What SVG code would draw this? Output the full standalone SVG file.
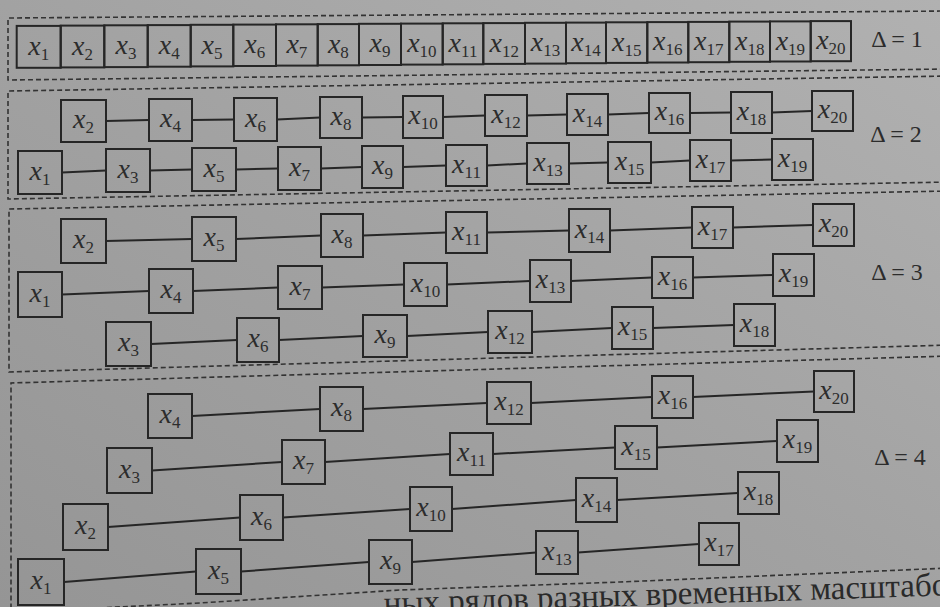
<svg xmlns="http://www.w3.org/2000/svg" width="940" height="607" viewBox="0 0 940 607">
<defs>
<linearGradient id="bg" x1="0" y1="1" x2="1" y2="0">
<stop offset="0" stop-color="#959595"/>
<stop offset="0.5" stop-color="#a2a2a2"/>
<stop offset="1" stop-color="#b1b1b1"/>
</linearGradient>
<style>
.box{fill:none;stroke:#262626;stroke-width:2}
.lbl{font-family:"Liberation Serif",serif;font-style:italic;font-size:28px;fill:#2c2c2c;text-anchor:middle}
.sub{font-style:normal;font-size:17px}
.con line{stroke:#262626;stroke-width:2}
.panel{fill:none;stroke:#333;stroke-width:1.6;stroke-dasharray:5 3}
.dl{font-family:"Liberation Serif",serif;font-size:24px;fill:#2c2c2c;text-anchor:middle}
.cap{font-family:"Liberation Serif",serif;font-size:33px;fill:#2a2a2a}
</style>
</defs>
<rect width="940" height="607" fill="url(#bg)"/>
<g id="panels">
<path class="panel" d="M950,11 L8,18 L8,80 L950,69"/>
<path class="panel" d="M950,76 L8,91 L8,199 L950,182"/>
<path class="panel" d="M950,191 L9,209 L9,372 L950,345"/>
<path class="panel" d="M950,356 L11,383 L11,612"/>
<path class="panel" d="M-5,613 L200,603 L400,590 L620,582 L950,568"/>
</g>
<g id="delta-labels">
<text class="dl" x="897" y="47">Δ = 1</text>
<text class="dl" x="896" y="142">Δ = 2</text>
<text class="dl" x="897" y="280">Δ = 3</text>
<text class="dl" x="900" y="465">Δ = 4</text>
</g>
<g id="row-d1">
<g id="d1-x1"><rect class="box" x="16.7" y="25.9" width="44" height="41.9"/><text class="lbl" x="38.7" y="54.9">x<tspan class="sub" dy="5">1</tspan></text></g>
<g id="d1-x2"><rect class="box" x="60.7" y="25.6" width="43.6" height="41.8"/><text class="lbl" x="82.5" y="54.5">x<tspan class="sub" dy="5">2</tspan></text></g>
<g id="d1-x3"><rect class="box" x="104.3" y="25.3" width="43.4" height="41.8"/><text class="lbl" x="126" y="54.2">x<tspan class="sub" dy="5">3</tspan></text></g>
<g id="d1-x4"><rect class="box" x="147.7" y="25.1" width="43" height="41.6"/><text class="lbl" x="169.2" y="53.9">x<tspan class="sub" dy="5">4</tspan></text></g>
<g id="d1-x5"><rect class="box" x="190.7" y="24.8" width="42.6" height="41.6"/><text class="lbl" x="212" y="53.6">x<tspan class="sub" dy="5">5</tspan></text></g>
<g id="d1-x6"><rect class="box" x="233.3" y="24.6" width="42.7" height="41.4"/><text class="lbl" x="254.7" y="53.3">x<tspan class="sub" dy="5">6</tspan></text></g>
<g id="d1-x7"><rect class="box" x="276" y="24.3" width="41.7" height="41.3"/><text class="lbl" x="296.9" y="53">x<tspan class="sub" dy="5">7</tspan></text></g>
<g id="d1-x8"><rect class="box" x="317.7" y="24.1" width="41.3" height="41.2"/><text class="lbl" x="338.4" y="52.7">x<tspan class="sub" dy="5">8</tspan></text></g>
<g id="d1-x9"><rect class="box" x="359" y="23.8" width="42" height="41.2"/><text class="lbl" x="380" y="52.4">x<tspan class="sub" dy="5">9</tspan></text></g>
<g id="d1-x10"><rect class="box" x="401" y="23.6" width="41.7" height="41"/><text class="lbl" x="421.9" y="52.1">x<tspan class="sub" dy="5">10</tspan></text></g>
<g id="d1-x11"><rect class="box" x="442.7" y="23.3" width="40.6" height="41"/><text class="lbl" x="463" y="51.8">x<tspan class="sub" dy="5">11</tspan></text></g>
<g id="d1-x12"><rect class="box" x="483.3" y="23.1" width="41.7" height="40.8"/><text class="lbl" x="504.2" y="51.5">x<tspan class="sub" dy="5">12</tspan></text></g>
<g id="d1-x13"><rect class="box" x="525" y="22.8" width="41" height="40.8"/><text class="lbl" x="545.5" y="51.2">x<tspan class="sub" dy="5">13</tspan></text></g>
<g id="d1-x14"><rect class="box" x="566" y="22.6" width="40" height="40.6"/><text class="lbl" x="586" y="50.9">x<tspan class="sub" dy="5">14</tspan></text></g>
<g id="d1-x15"><rect class="box" x="606" y="22.3" width="41.3" height="40.6"/><text class="lbl" x="626.7" y="50.6">x<tspan class="sub" dy="5">15</tspan></text></g>
<g id="d1-x16"><rect class="box" x="647.3" y="22.1" width="41" height="40.4"/><text class="lbl" x="667.8" y="50.3">x<tspan class="sub" dy="5">16</tspan></text></g>
<g id="d1-x17"><rect class="box" x="688.3" y="21.9" width="41" height="40.3"/><text class="lbl" x="708.8" y="50">x<tspan class="sub" dy="5">17</tspan></text></g>
<g id="d1-x18"><rect class="box" x="729.3" y="21.6" width="40.7" height="40.2"/><text class="lbl" x="749.7" y="49.7">x<tspan class="sub" dy="5">18</tspan></text></g>
<g id="d1-x19"><rect class="box" x="770" y="21.4" width="40.7" height="40.1"/><text class="lbl" x="790.4" y="49.5">x<tspan class="sub" dy="5">19</tspan></text></g>
<g id="d1-x20"><rect class="box" x="810.7" y="21.1" width="40.3" height="40.1"/><text class="lbl" x="830.9" y="49.2">x<tspan class="sub" dy="5">20</tspan></text></g>
</g>
<g id="connectors" class="con">
<line x1="106" y1="121" x2="149" y2="120"/>
<line x1="192" y1="120" x2="234" y2="119.5"/>
<line x1="277" y1="119.5" x2="320" y2="117.5"/>
<line x1="362" y1="117.5" x2="403" y2="117"/>
<line x1="443" y1="117" x2="485" y2="115.5"/>
<line x1="527" y1="115.5" x2="567" y2="114.5"/>
<line x1="608" y1="114.5" x2="649" y2="113"/>
<line x1="690" y1="113" x2="731" y2="112.5"/>
<line x1="772" y1="112.5" x2="812" y2="111"/>
<line x1="62" y1="172.5" x2="106" y2="170.5"/>
<line x1="150" y1="170.5" x2="192" y2="169.5"/>
<line x1="236" y1="169.5" x2="278" y2="168.5"/>
<line x1="321" y1="168.5" x2="362" y2="167"/>
<line x1="403" y1="167" x2="446" y2="165.5"/>
<line x1="487" y1="165.5" x2="527" y2="163.5"/>
<line x1="569" y1="163.5" x2="608" y2="162.5"/>
<line x1="651" y1="162.5" x2="690" y2="160.5"/>
<line x1="731" y1="160.5" x2="772" y2="159.5"/>
<line x1="106" y1="241" x2="192" y2="239"/>
<line x1="236" y1="239" x2="321" y2="235.5"/>
<line x1="363" y1="235.5" x2="446" y2="232.5"/>
<line x1="487" y1="232.5" x2="569" y2="230.5"/>
<line x1="610" y1="230.5" x2="692" y2="227.5"/>
<line x1="733" y1="227.5" x2="813" y2="225"/>
<line x1="62" y1="294.5" x2="149" y2="291"/>
<line x1="193" y1="291" x2="278" y2="287.5"/>
<line x1="322" y1="287.5" x2="404" y2="284.5"/>
<line x1="447" y1="284.5" x2="530" y2="281"/>
<line x1="571" y1="281" x2="652" y2="277.5"/>
<line x1="693" y1="277.5" x2="773" y2="275"/>
<line x1="151" y1="344" x2="237" y2="340"/>
<line x1="279" y1="340" x2="363" y2="336"/>
<line x1="407" y1="336" x2="488" y2="332"/>
<line x1="532" y1="332" x2="612" y2="328"/>
<line x1="653" y1="328" x2="734" y2="325"/>
<line x1="192" y1="416" x2="320" y2="409"/>
<line x1="363" y1="409" x2="487" y2="403"/>
<line x1="531" y1="403" x2="652" y2="397"/>
<line x1="693" y1="397" x2="814" y2="391.5"/>
<line x1="152" y1="470.5" x2="282" y2="462"/>
<line x1="325" y1="462" x2="450" y2="454"/>
<line x1="493" y1="454" x2="615" y2="447.5"/>
<line x1="657" y1="447.5" x2="777" y2="441"/>
<line x1="108" y1="527" x2="240" y2="517.5"/>
<line x1="283" y1="517.5" x2="410" y2="509"/>
<line x1="452" y1="509" x2="576" y2="500"/>
<line x1="617" y1="500" x2="738" y2="493"/>
<line x1="64" y1="582" x2="196" y2="571.5"/>
<line x1="241" y1="571.5" x2="369" y2="562"/>
<line x1="412" y1="562" x2="536" y2="552.5"/>
<line x1="578" y1="552.5" x2="699" y2="544"/>
</g>
<g id="d2">
<g id="d2-x2"><rect class="box" x="61" y="100" width="45" height="42"/><text class="lbl" x="83.5" y="128">x<tspan class="sub" dy="5">2</tspan></text></g>
<g id="d2-x4"><rect class="box" x="149" y="99" width="43" height="42"/><text class="lbl" x="170.5" y="127">x<tspan class="sub" dy="5">4</tspan></text></g>
<g id="d2-x6"><rect class="box" x="234" y="98" width="43" height="43"/><text class="lbl" x="255.5" y="126.5">x<tspan class="sub" dy="5">6</tspan></text></g>
<g id="d2-x8"><rect class="box" x="320" y="97" width="42" height="41"/><text class="lbl" x="341" y="124.5">x<tspan class="sub" dy="5">8</tspan></text></g>
<g id="d2-x10"><rect class="box" x="403" y="96" width="40" height="42"/><text class="lbl" x="423" y="124">x<tspan class="sub" dy="5">10</tspan></text></g>
<g id="d2-x12"><rect class="box" x="485" y="95" width="42" height="41"/><text class="lbl" x="506" y="122.5">x<tspan class="sub" dy="5">12</tspan></text></g>
<g id="d2-x14"><rect class="box" x="567" y="94" width="41" height="41"/><text class="lbl" x="587.5" y="121.5">x<tspan class="sub" dy="5">14</tspan></text></g>
<g id="d2-x16"><rect class="box" x="649" y="93" width="41" height="40"/><text class="lbl" x="669.5" y="120">x<tspan class="sub" dy="5">16</tspan></text></g>
<g id="d2-x18"><rect class="box" x="731" y="92" width="41" height="41"/><text class="lbl" x="751.5" y="119.5">x<tspan class="sub" dy="5">18</tspan></text></g>
<g id="d2-x20"><rect class="box" x="812" y="91" width="41" height="40"/><text class="lbl" x="832.5" y="118">x<tspan class="sub" dy="5">20</tspan></text></g>
<g id="d2-x1"><rect class="box" x="18" y="151" width="44" height="43"/><text class="lbl" x="40" y="179.5">x<tspan class="sub" dy="5">1</tspan></text></g>
<g id="d2-x3"><rect class="box" x="106" y="149" width="44" height="43"/><text class="lbl" x="128" y="177.5">x<tspan class="sub" dy="5">3</tspan></text></g>
<g id="d2-x5"><rect class="box" x="192" y="148" width="44" height="43"/><text class="lbl" x="214" y="176.5">x<tspan class="sub" dy="5">5</tspan></text></g>
<g id="d2-x7"><rect class="box" x="278" y="147" width="43" height="43"/><text class="lbl" x="299.5" y="175.5">x<tspan class="sub" dy="5">7</tspan></text></g>
<g id="d2-x9"><rect class="box" x="362" y="146" width="41" height="42"/><text class="lbl" x="382.5" y="174">x<tspan class="sub" dy="5">9</tspan></text></g>
<g id="d2-x11"><rect class="box" x="446" y="145" width="41" height="41"/><text class="lbl" x="466.5" y="172.5">x<tspan class="sub" dy="5">11</tspan></text></g>
<g id="d2-x13"><rect class="box" x="527" y="143" width="42" height="41"/><text class="lbl" x="548" y="170.5">x<tspan class="sub" dy="5">13</tspan></text></g>
<g id="d2-x15"><rect class="box" x="608" y="142" width="43" height="41"/><text class="lbl" x="629.5" y="169.5">x<tspan class="sub" dy="5">15</tspan></text></g>
<g id="d2-x17"><rect class="box" x="690" y="140" width="41" height="41"/><text class="lbl" x="710.5" y="167.5">x<tspan class="sub" dy="5">17</tspan></text></g>
<g id="d2-x19"><rect class="box" x="772" y="139" width="41" height="41"/><text class="lbl" x="792.5" y="166.5">x<tspan class="sub" dy="5">19</tspan></text></g>
</g>
<g id="d3">
<g id="d3-x2"><rect class="box" x="61" y="219" width="45" height="44"/><text class="lbl" x="83.5" y="248">x<tspan class="sub" dy="5">2</tspan></text></g>
<g id="d3-x5"><rect class="box" x="192" y="217" width="44" height="44"/><text class="lbl" x="214" y="246">x<tspan class="sub" dy="5">5</tspan></text></g>
<g id="d3-x8"><rect class="box" x="321" y="214" width="42" height="43"/><text class="lbl" x="342" y="242.5">x<tspan class="sub" dy="5">8</tspan></text></g>
<g id="d3-x11"><rect class="box" x="446" y="212" width="41" height="41"/><text class="lbl" x="466.5" y="239.5">x<tspan class="sub" dy="5">11</tspan></text></g>
<g id="d3-x14"><rect class="box" x="569" y="209" width="41" height="43"/><text class="lbl" x="589.5" y="237.5">x<tspan class="sub" dy="5">14</tspan></text></g>
<g id="d3-x17"><rect class="box" x="692" y="207" width="41" height="41"/><text class="lbl" x="712.5" y="234.5">x<tspan class="sub" dy="5">17</tspan></text></g>
<g id="d3-x20"><rect class="box" x="813" y="204" width="41" height="42"/><text class="lbl" x="833.5" y="232">x<tspan class="sub" dy="5">20</tspan></text></g>
<g id="d3-x1"><rect class="box" x="18" y="272" width="44" height="45"/><text class="lbl" x="40" y="301.5">x<tspan class="sub" dy="5">1</tspan></text></g>
<g id="d3-x4"><rect class="box" x="149" y="269" width="44" height="44"/><text class="lbl" x="171" y="298">x<tspan class="sub" dy="5">4</tspan></text></g>
<g id="d3-x7"><rect class="box" x="278" y="266" width="44" height="43"/><text class="lbl" x="300" y="294.5">x<tspan class="sub" dy="5">7</tspan></text></g>
<g id="d3-x10"><rect class="box" x="404" y="263" width="43" height="43"/><text class="lbl" x="425.5" y="291.5">x<tspan class="sub" dy="5">10</tspan></text></g>
<g id="d3-x13"><rect class="box" x="530" y="260" width="41" height="42"/><text class="lbl" x="550.5" y="288">x<tspan class="sub" dy="5">13</tspan></text></g>
<g id="d3-x16"><rect class="box" x="652" y="257" width="41" height="41"/><text class="lbl" x="672.5" y="284.5">x<tspan class="sub" dy="5">16</tspan></text></g>
<g id="d3-x19"><rect class="box" x="773" y="254" width="41" height="42"/><text class="lbl" x="793.5" y="282">x<tspan class="sub" dy="5">19</tspan></text></g>
<g id="d3-x3"><rect class="box" x="106" y="322" width="45" height="44"/><text class="lbl" x="128.5" y="351">x<tspan class="sub" dy="5">3</tspan></text></g>
<g id="d3-x6"><rect class="box" x="237" y="318" width="42" height="44"/><text class="lbl" x="258" y="347">x<tspan class="sub" dy="5">6</tspan></text></g>
<g id="d3-x9"><rect class="box" x="363" y="315" width="44" height="42"/><text class="lbl" x="385" y="343">x<tspan class="sub" dy="5">9</tspan></text></g>
<g id="d3-x12"><rect class="box" x="488" y="311" width="44" height="42"/><text class="lbl" x="510" y="339">x<tspan class="sub" dy="5">12</tspan></text></g>
<g id="d3-x15"><rect class="box" x="612" y="307" width="41" height="42"/><text class="lbl" x="632.5" y="335">x<tspan class="sub" dy="5">15</tspan></text></g>
<g id="d3-x18"><rect class="box" x="734" y="304" width="41" height="42"/><text class="lbl" x="754.5" y="332">x<tspan class="sub" dy="5">18</tspan></text></g>
</g>
<g id="d4">
<g id="d4-x4"><rect class="box" x="148" y="394" width="44" height="44"/><text class="lbl" x="170" y="423">x<tspan class="sub" dy="5">4</tspan></text></g>
<g id="d4-x8"><rect class="box" x="320" y="387" width="43" height="44"/><text class="lbl" x="341.5" y="416">x<tspan class="sub" dy="5">8</tspan></text></g>
<g id="d4-x12"><rect class="box" x="487" y="382" width="44" height="42"/><text class="lbl" x="509" y="410">x<tspan class="sub" dy="5">12</tspan></text></g>
<g id="d4-x16"><rect class="box" x="652" y="376" width="41" height="42"/><text class="lbl" x="672.5" y="404">x<tspan class="sub" dy="5">16</tspan></text></g>
<g id="d4-x20"><rect class="box" x="814" y="371" width="40" height="41"/><text class="lbl" x="834" y="398.5">x<tspan class="sub" dy="5">20</tspan></text></g>
<g id="d4-x3"><rect class="box" x="107" y="448" width="45" height="45"/><text class="lbl" x="129.5" y="477.5">x<tspan class="sub" dy="5">3</tspan></text></g>
<g id="d4-x7"><rect class="box" x="282" y="440" width="43" height="44"/><text class="lbl" x="303.5" y="469">x<tspan class="sub" dy="5">7</tspan></text></g>
<g id="d4-x11"><rect class="box" x="450" y="433" width="43" height="42"/><text class="lbl" x="471.5" y="461">x<tspan class="sub" dy="5">11</tspan></text></g>
<g id="d4-x15"><rect class="box" x="615" y="426" width="42" height="43"/><text class="lbl" x="636" y="454.5">x<tspan class="sub" dy="5">15</tspan></text></g>
<g id="d4-x19"><rect class="box" x="777" y="420" width="41" height="42"/><text class="lbl" x="797.5" y="448">x<tspan class="sub" dy="5">19</tspan></text></g>
<g id="d4-x2"><rect class="box" x="63" y="504" width="45" height="46"/><text class="lbl" x="85.5" y="534">x<tspan class="sub" dy="5">2</tspan></text></g>
<g id="d4-x6"><rect class="box" x="240" y="495" width="43" height="45"/><text class="lbl" x="261.5" y="524.5">x<tspan class="sub" dy="5">6</tspan></text></g>
<g id="d4-x10"><rect class="box" x="410" y="487" width="42" height="44"/><text class="lbl" x="431" y="516">x<tspan class="sub" dy="5">10</tspan></text></g>
<g id="d4-x14"><rect class="box" x="576" y="478" width="41" height="44"/><text class="lbl" x="596.5" y="507">x<tspan class="sub" dy="5">14</tspan></text></g>
<g id="d4-x18"><rect class="box" x="738" y="472" width="41" height="42"/><text class="lbl" x="758.5" y="500">x<tspan class="sub" dy="5">18</tspan></text></g>
<g id="d4-x1"><rect class="box" x="18" y="559" width="46" height="46"/><text class="lbl" x="41" y="589">x<tspan class="sub" dy="5">1</tspan></text></g>
<g id="d4-x5"><rect class="box" x="196" y="549" width="45" height="45"/><text class="lbl" x="218.5" y="578.5">x<tspan class="sub" dy="5">5</tspan></text></g>
<g id="d4-x9"><rect class="box" x="369" y="540" width="43" height="44"/><text class="lbl" x="390.5" y="569">x<tspan class="sub" dy="5">9</tspan></text></g>
<g id="d4-x13"><rect class="box" x="536" y="531" width="42" height="43"/><text class="lbl" x="557" y="559.5">x<tspan class="sub" dy="5">13</tspan></text></g>
<g id="d4-x17"><rect class="box" x="699" y="523" width="40" height="42"/><text class="lbl" x="719" y="551">x<tspan class="sub" dy="5">17</tspan></text></g>
</g>
<text class="cap" x="384" y="614" transform="rotate(-1.9 384 614)">ных рядов разных временных масштабов</text>
</svg>
